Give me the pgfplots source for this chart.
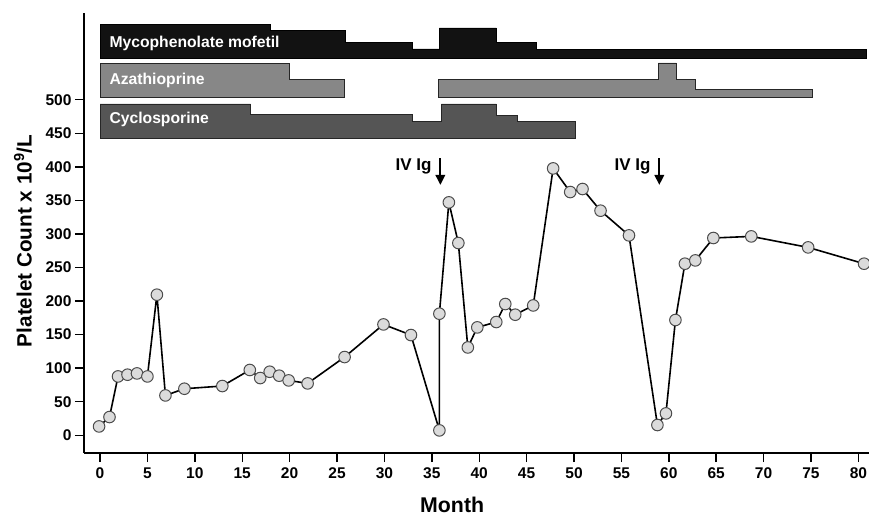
\documentclass[border=0pt]{standalone}
\usepackage{fontspec}
\setmainfont{Liberation Sans}
\usepackage{pgfplots}
\pgfplotsset{compat=1.18}
\usetikzlibrary{arrows.meta}
\definecolor{mmf}{RGB}{18,18,18}
\definecolor{aza}{RGB}{135,135,135}
\definecolor{cyc}{RGB}{85,85,85}
\begin{document}
\begin{tikzpicture}
\path[use as bounding box] (-84pt,-64pt) rectangle (785pt,453pt);
\begin{axis}[
  at={(0,0)}, anchor=south west,
  scale only axis, width=785pt, height=440pt,
  xmin=-1.69, xmax=81.12, ymin=-26.5, ymax=629.2,
  axis x line*=bottom, axis y line*=left,
  axis line style={line width=2.3pt, black},
  xtick={0,5,...,80}, ytick={0,50,...,500},
  tick align=outside, major tick length=9pt,
  tick style={line width=1.4pt, black},
  /pgf/number format/assume math mode=true,
  tick label style={font=\bfseries\fontsize{15.5}{15.5}\selectfont},
  xticklabel style={yshift=-2pt},
  xlabel={Month}, ylabel={Platelet Count x 10\textsuperscript{9}/L},
  xlabel style={at={(axis description cs:0.469,-0.118)}, anchor=center, font=\bfseries\fontsize{21.3}{21.3}\selectfont},
  ylabel style={at={(axis description cs:-0.0777,0.482)}, anchor=center, font=\bfseries\fontsize{20.7}{20.7}\selectfont},
  clip=false,
]
% drug bars
\addplot[fill=mmf, draw=black, line width=0.8pt] coordinates {
(0,561.8) (0,612.8) (18,612.8) (18,603.3) (25.9,603.3) (25.9,585.4) (32.9,585.4) (32.9,575.6) (35.8,575.6) (35.8,606.9) (41.8,606.9) (41.8,585.4) (46,585.4) (46,574.6) (80.8,574.6) (80.8,561.8)} -- cycle;
\addplot[fill=aza, draw=black!85, line width=0.8pt] coordinates {
(0,503.4) (0,553.7) (20,553.7) (20,529.8) (25.8,529.8) (25.8,503.4)} -- cycle;
\addplot[fill=aza, draw=black!85, line width=0.8pt] coordinates {
(35.7,503.4) (35.7,529.8) (58.9,529.8) (58.9,554.7) (60.8,554.7) (60.8,529.8) (62.8,529.8) (62.8,514.9) (75.1,514.9) (75.1,503.4)} -- cycle;
\addplot[fill=cyc, draw=black!85, line width=0.8pt] coordinates {
(0,442.9) (0,493.6) (15.9,493.6) (15.9,477.6) (33,477.6) (33,467.7) (36,467.7) (36,493.6) (41.8,493.6) (41.8,476.6) (44,476.6) (44,467.7) (50.1,467.7) (50.1,442.9)} -- cycle;
\node[white, anchor=west, inner sep=0pt, font=\bfseries\fontsize{15.7}{15.7}\selectfont] at (axis cs:0.98,584.5) {Mycophenolate mofetil};
\node[white, anchor=west, inner sep=0pt, font=\bfseries\fontsize{15.7}{15.7}\selectfont] at (axis cs:0.98,529.4) {Azathioprine};
\node[white, anchor=west, inner sep=0pt, font=\bfseries\fontsize{15.7}{15.7}\selectfont] at (axis cs:0.98,470.2) {Cyclosporine};
% IV Ig arrows
\draw[line width=1.9pt, -{Triangle[length=10pt,width=9.5pt]}] (axis cs:35.9,413) -- (axis cs:35.9,373);
\draw[line width=1.9pt, -{Triangle[length=10pt,width=9.5pt]}] (axis cs:59.0,413) -- (axis cs:59.0,373);
\node[anchor=east, inner sep=0pt, font=\bfseries\fontsize{17}{17}\selectfont] at (axis cs:35.0,400.6) {IV Ig};
\node[anchor=east, inner sep=0pt, font=\bfseries\fontsize{17}{17}\selectfont] at (axis cs:58.1,400.6) {IV Ig};
% platelet counts
\addplot[black, line width=1.6pt, mark=*, mark size=5.8pt,
  mark options={fill=gray!28, draw=black!70, line width=1pt}] coordinates {
(-0.1,13.1) (1,27.1) (1.9,87.6) (2.9,90.2) (3.9,92.1) (5,87.6) (6,209.4) (6.9,59.3) (8.9,69.3) (12.9,73.3) (15.8,97.2) (16.9,85.2) (17.9,94.6) (18.9,88.7) (19.9,81.7) (21.9,77.2) (25.8,116.5) (29.9,165.1) (32.8,149.3) (35.8,7.2) (35.8,181.1) (36.8,347) (37.8,286.4) (38.8,130.8) (39.8,160.7) (41.8,168.7) (42.75,195.5) (43.8,179.6) (45.7,193.4) (47.8,397.6) (49.6,362.4) (50.9,366.9) (52.8,334.6) (55.8,297.8) (58.8,15.2) (59.7,32.5) (60.7,171.7) (61.7,255.6) (62.8,260.5) (64.7,293.9) (68.7,296.3) (74.7,279.9) (80.6,255.6)};
\end{axis}
\end{tikzpicture}
\end{document}
